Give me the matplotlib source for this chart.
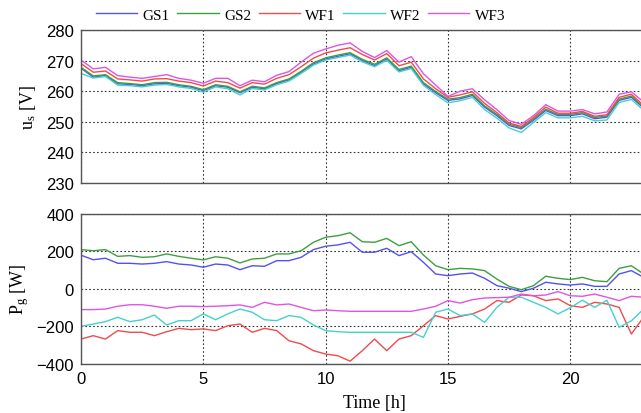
import numpy as np
import matplotlib
matplotlib.use("Agg")
import matplotlib.pyplot as plt

# ----------------------------------------------------------------------
# data (0.5 h steps)
# ----------------------------------------------------------------------
time_h = np.arange(0, 23.01, 0.5)

names = ["GS1", "GS2", "WF1", "WF2", "WF3"]
colors = ["#5252f2", "#3f9e3f", "#f24a4a", "#45d0d0", "#e055e0"]

us_gs1 = [267.5, 264.6, 265.1, 262.4, 262.2, 261.8, 262.4, 262.6, 261.8, 261.3, 260.2, 261.8,
          261.3, 259.5, 261.3, 260.8, 262.5, 263.7, 266.2, 268.9, 270.5, 271.4, 272.2, 270.0,
          268.4, 270.5, 266.7, 267.8, 262.4, 259.5, 257.0, 257.5, 258.6, 254.8, 252.0, 248.8,
          247.7, 250.5, 253.7, 252.0, 252.0, 252.6, 251.0, 251.5, 257.0, 258.0, 254.5]
us_gs2 = [267.8, 265.0, 265.4, 262.8, 262.5, 262.1, 262.8, 262.9, 262.1, 261.6, 260.5, 262.1,
          261.6, 259.8, 261.6, 261.1, 262.8, 264.0, 266.5, 269.3, 270.9, 271.8, 272.6, 270.4,
          268.8, 270.9, 267.1, 268.2, 262.8, 259.9, 257.4, 257.9, 259.0, 255.2, 252.4, 249.2,
          248.1, 250.9, 254.1, 252.4, 252.4, 253.0, 251.4, 251.9, 257.4, 258.4, 254.9]
us_wf1 = [269.0, 266.2, 266.6, 264.0, 263.7, 263.3, 264.0, 264.1, 263.3, 262.8, 261.7, 263.3,
          262.8, 261.0, 262.8, 262.3, 264.2, 265.4, 268.0, 270.8, 272.5, 273.4, 274.2, 272.0,
          270.2, 272.3, 268.3, 269.5, 264.0, 260.8, 258.0, 258.8, 259.8, 256.0, 253.0, 249.6,
          248.5, 251.4, 254.8, 252.8, 252.8, 253.4, 251.8, 252.3, 258.0, 259.0, 255.3]
us_wf2 = [265.8, 264.3, 264.8, 262.0, 261.8, 261.4, 262.0, 262.2, 261.4, 260.9, 259.7, 261.4,
          260.8, 258.8, 260.9, 260.4, 262.1, 263.3, 265.8, 268.5, 270.2, 271.0, 271.8, 269.6,
          268.0, 270.1, 266.3, 267.4, 261.9, 258.9, 256.2, 256.9, 258.0, 254.0, 251.2, 248.0,
          246.5, 249.8, 253.0, 251.3, 251.3, 251.8, 250.3, 250.6, 256.3, 257.3, 253.8]
us_wf3 = [270.2, 267.3, 267.8, 265.1, 264.6, 264.2, 264.8, 265.4, 264.2, 263.6, 262.6, 264.2,
          264.2, 261.8, 263.6, 263.1, 265.2, 266.4, 269.5, 272.4, 273.8, 275.0, 275.8, 273.0,
          271.0, 273.3, 269.5, 271.3, 265.7, 262.0, 258.3, 260.0, 260.8, 257.2, 254.0, 250.4,
          249.2, 252.0, 255.6, 253.5, 253.5, 254.0, 252.6, 253.2, 259.0, 259.8, 256.5]

pg_gs1 = [180, 156, 164, 137, 137, 133, 137, 146, 133, 128, 116, 133,
          128, 103, 124, 121, 151, 151, 169, 210, 228, 235, 249, 196,
          196, 217, 178, 199, 142, 80, 71, 80, 85, 57, 18, 4,
          -14, 4, 36, 27, 21, 27, 14, 14, 80, 98, 62]
pg_gs2 = [210, 204, 210, 174, 178, 169, 172, 187, 174, 164, 155, 172,
          164, 139, 160, 164, 187, 187, 204, 249, 276, 284, 300, 252,
          249, 270, 231, 252, 181, 124, 103, 110, 107, 98, 53, 14,
          -4, 18, 68, 57, 50, 62, 44, 39, 110, 124, 80]
pg_wf1 = [-267, -249, -267, -222, -231, -231, -249, -228, -210, -217, -213, -222,
          -196, -187, -231, -210, -222, -276, -293, -329, -347, -356, -385, -329,
          -267, -329, -267, -249, -196, -142, -160, -146, -133, -107, -62, -71,
          -32, -36, -62, -53, -89, -98, -71, -80, -98, -240, -150]
pg_wf2 = [-199, -187, -174, -151, -174, -164, -139, -192, -169, -169, -133, -164,
          -133, -107, -124, -164, -169, -142, -151, -192, -222, -228, -231, -231,
          -231, -231, -231, -231, -258, -124, -107, -142, -133, -178, -98, -44,
          -44, -71, -98, -133, -100, -60, -98, -60, -204, -170, -107]
pg_wf3 = [-110, -110, -107, -92, -84, -84, -92, -103, -92, -92, -94, -92,
          -89, -85, -98, -71, -85, -80, -98, -116, -112, -116, -119, -119,
          -119, -119, -119, -119, -107, -92, -62, -75, -57, -48, -46, -44,
          -27, -36, -32, -14, -36, -39, -27, -44, -62, -39, -44]

us_series = [us_gs1, us_gs2, us_wf1, us_wf2, us_wf3]
pg_series = [pg_gs1, pg_gs2, pg_wf1, pg_wf2, pg_wf3]

# ----------------------------------------------------------------------
# style
# ----------------------------------------------------------------------
plt.rcParams["font.family"] = ["Liberation Sans", "DejaVu Sans"]
plt.rcParams["mathtext.default"] = "regular"
serif = ["Liberation Serif", "DejaVu Serif"]

fig = plt.figure(figsize=(6.41, 4.14), dpi=100)
ax_u = fig.add_axes([0.1264, 0.5556, 0.9158, 0.3695])
ax_p = fig.add_axes([0.1264, 0.1184, 0.9158, 0.3623])

for ax in (ax_u, ax_p):
    ax.set_xlim(0, 24)
    ax.set_xticks([0, 5, 10, 15, 20])
    ax.grid(True, color="#333333", linestyle=(0, (1.5, 2)), linewidth=0.8)
    ax.tick_params(length=0, labelsize=12, pad=5)
    for sp in ax.spines.values():
        sp.set_color("#555555")
        sp.set_linewidth(1.0)

# --- top: voltages ---
for vals, name, col in zip(us_series, names, colors):
    ax_u.plot(time_h, vals, color=col, linewidth=1.0, label=name)
ax_u.set_ylim(230, 280)
ax_u.set_yticks(np.arange(230, 281, 10))
ax_u.set_xticklabels([])
ax_u.set_ylabel("u$_{s}$ [V]", fontsize=13, family=serif, labelpad=6)

# --- bottom: powers ---
for vals, name, col in zip(pg_series, names, colors):
    ax_p.plot(time_h, vals, color=col, linewidth=1.0)
ax_p.set_ylim(-400, 400)
ax_p.set_yticks([-400, -200, 0, 200, 400])
ax_p.set_ylabel("P$_{g}$ [W]", fontsize=13, family=serif, labelpad=4)
ax_p.set_xlabel("Time [h]", fontsize=13, family=serif, labelpad=6)

fig.legend(loc="center", bbox_to_anchor=(0.469, 0.962), ncol=5, frameon=False,
           handlelength=2.7, columnspacing=0.5, handletextpad=0.35,
           prop={"family": serif, "size": 11})

fig.savefig("out.png", dpi=100)
